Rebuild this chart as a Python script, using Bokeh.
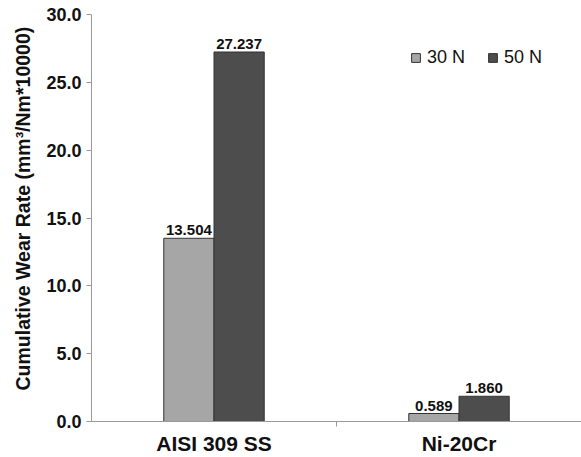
from bokeh.plotting import figure
from bokeh.models import Range1d, FixedTicker, ColumnDataSource, Legend, LegendItem, LabelSet, Title
from bokeh.core.properties import value
from bokeh.embed import file_html
from bokeh.resources import INLINE
import numpy as np

categories = ["AISI 309 SS", "Ni-20Cr"]
series = ["30 N", "50 N"]
wear_30N = [13.504, 0.589]
wear_50N = [27.237, 1.860]
y_ticks = [0, 5, 10, 15, 20, 25, 30]
y_title = "Cumulative Wear Rate (mm³/Nm*10000)"

colors = ["#a6a6a6", "#4d4d4d"]
FONT = "Liberation Sans"

p = figure(width=581, height=457, output_backend="svg", toolbar_location=None,
           x_range=Range1d(0, len(categories)), y_range=Range1d(0, 30),
           min_border_left=90, min_border_right=0, min_border_top=14, min_border_bottom=34)
p.outline_line_color = None
p.grid.grid_line_color = None

idx = np.arange(len(categories)) + 0.5
bw = 0.205
offsets = [-0.1025, 0.1025]
renderers = []
for s, vals, col, off in zip(series, [wear_30N, wear_50N], colors, offsets):
    src = ColumnDataSource(dict(x=idx + off, top=vals, lbl=["%.3f" % v for v in vals]))
    r = p.vbar(x="x", top="top", width=bw, bottom=0, source=src,
               fill_color=col, line_color="#333333", line_width=1)
    renderers.append(r)
    p.add_layout(LabelSet(x="x", y="top", text="lbl", source=src, text_align="center",
                          text_baseline="bottom", y_offset=3, text_font=value(FONT),
                          text_font_size="15px", text_font_style="bold",
                          text_color="#111111"))

legend = Legend(items=[LegendItem(label=s, renderers=[r]) for s, r in zip(series, renderers)],
                orientation="horizontal",
                label_text_font=FONT, label_text_font_size="18px", label_text_color="#111111",
                glyph_width=11, glyph_height=11, spacing=22, label_standoff=6,
                background_fill_alpha=0, border_line_color=None, margin=0, padding=0)
p.add_layout(legend)
legend.location = (319, 353)

# x axis
p.xaxis.ticker = FixedTicker(ticks=list(idx), minor_ticks=[1.0])
p.xaxis.major_label_overrides = {float(i): c for i, c in zip(idx, categories)}
p.xaxis.major_tick_out = 0
p.xaxis.major_tick_in = 0
p.xaxis.minor_tick_out = 5
p.xaxis.minor_tick_in = 0
p.xaxis.minor_tick_line_color = "#999999"
p.xaxis.axis_line_color = "#999999"
p.xaxis.major_label_text_font = FONT
p.xaxis.major_label_text_font_style = "bold"
p.xaxis.major_label_text_font_size = "21px"
p.xaxis.major_label_text_color = "#111111"
p.xaxis.major_label_standoff = 5

# y axis
p.yaxis.ticker = FixedTicker(ticks=y_ticks)
p.yaxis.major_label_overrides = {t: "%.1f" % t for t in y_ticks}
p.yaxis.minor_tick_line_color = None
p.yaxis.major_tick_out = 5
p.yaxis.major_tick_in = 0
p.yaxis.major_tick_line_color = "#999999"
p.yaxis.axis_line_color = "#999999"
p.yaxis.major_label_text_font = FONT
p.yaxis.major_label_text_font_style = "bold"
p.yaxis.major_label_text_font_size = "18px"
p.yaxis.major_label_text_color = "#111111"
p.yaxis.major_label_standoff = 5

p.add_layout(Title(text=y_title, align="left", offset=31, standoff=19,
                   text_font=FONT, text_font_style="bold", text_font_size="19.5px",
                   text_color="#111111"), "left")

open("out.html", "w").write(file_html(p, INLINE))
